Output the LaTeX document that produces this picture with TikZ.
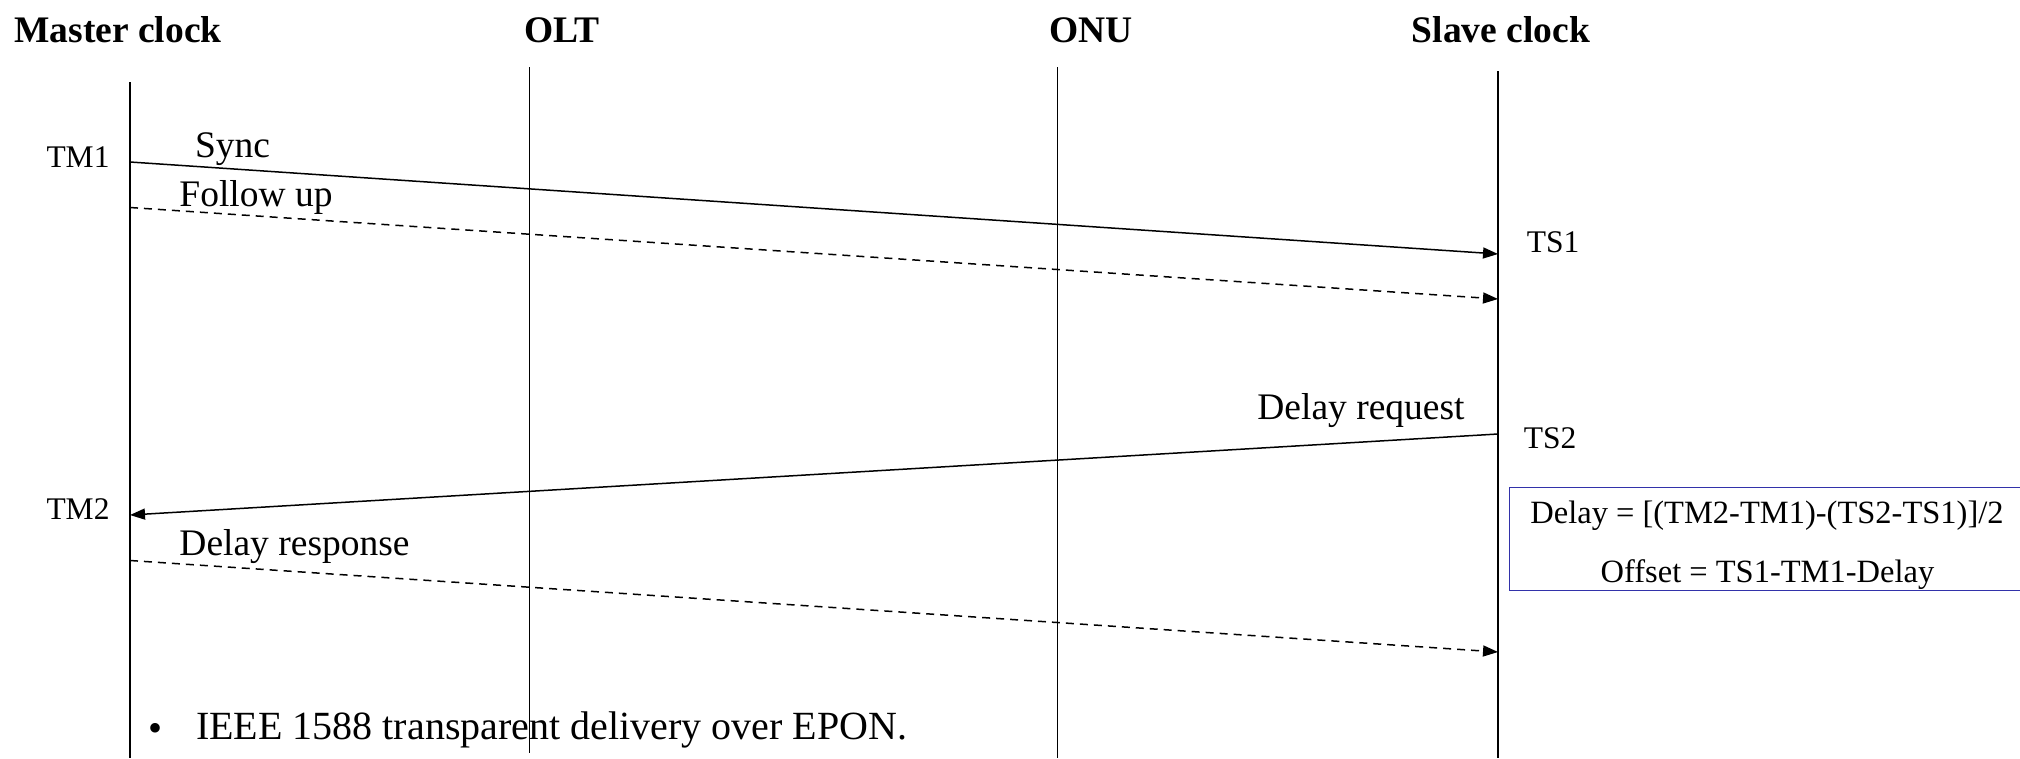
\documentclass[tikz,border=0pt]{standalone}
\usepackage{fontspec}
\setmainfont{Liberation Serif}
\usetikzlibrary{arrows.meta, positioning}
\definecolor{boxblue}{RGB}{50,50,170}

\begin{document}
\begin{tikzpicture}[x=1pt, y=-1pt,
        title/.style={font=\bfseries\fontsize{37.5}{37.5}\selectfont, inner sep=0pt},
        msglabel/.style={font=\fontsize{37.5}{37.5}\selectfont, inner sep=0pt},
        stamp/.style={font=\fontsize{31.5}{31.5}\selectfont, inner sep=0pt},
        formula/.style={font=\fontsize{32.5}{32.5}\selectfont, inner sep=0pt},
        lifeline/.style={line width=1.3pt},
        msg/.style={line width=1.5pt, -{Triangle[length=15pt,width=11pt]}},
        followmsg/.style={msg, dash pattern=on 8pt off 6pt}]

    \useasboundingbox (0,0) rectangle (2020,758);

    \node[title] (master) at (118,30) {Master clock};
    \node[title] (olt) at (562,30) {OLT};
    \node[title] (onu) at (1091,30) {ONU};
    \node[title] (slave) at (1501,30) {Slave clock};

    \coordinate (mtop) at (130,82);
    \coordinate (mbot) at (130,758);
    \coordinate (otop) at (529.5,67);
    \coordinate (obot) at (529.5,753);
    \coordinate (ntop) at (1057.5,67);
    \coordinate (nbot) at (1057.5,758);
    \coordinate (stop) at (1498,71);
    \coordinate (sbot) at (1498,758);

    \draw[lifeline] (mtop) -- (mbot);
    \draw[lifeline] (otop) -- (obot);
    \draw[lifeline] (ntop) -- (nbot);
    \draw[lifeline] (stop) -- (sbot);

    \coordinate (tm1) at (130,162);
    \coordinate (ts1) at (1498,254);
    \coordinate (fu1) at (130,207.5);
    \coordinate (fu2) at (1498,299);
    \coordinate (ts2) at (1498,434);
    \coordinate (tm2) at (130,515);
    \coordinate (dr1) at (130,560.5);
    \coordinate (dr2) at (1498,652);

    \draw[msg] (tm1) -- (ts1);
    \draw[followmsg] (fu1) -- (fu2);
    \draw[msg] (ts2) -- (tm2);
    \draw[followmsg] (dr1) -- (dr2);

    \node[stamp] (tm1lbl) at (78,157) {TM1};
    \node[stamp] (ts1lbl) at (1553,242) {TS1};
    \node[stamp] (ts2lbl) at (1550,438) {TS2};
    \node[stamp] (tm2lbl) at (78,509) {TM2};

    \node[msglabel] (sync) at (232.5,149) {Sync};
    \node[msglabel] (follow) at (256,197) {Follow up};
    \node[msglabel] (dreq) at (1361,411) {Delay request};
    \node[msglabel] (dresp) at (294.5,547) {Delay response};

    \node[draw=boxblue, line width=1.3pt, anchor=north west,
        minimum width=520pt, minimum height=103pt] (calcbox) at (1509,487) {};
    \node[formula] (delayeq) at (1767,516) {Delay = [(TM2-TM1)-(TS2-TS1)]/2};
    \node[formula] (offseteq) at (1767.5,575) {Offset = TS1-TM1-Delay};

    \node[msglabel, font=\fontsize{40}{40}\selectfont] (bullet) at (155,732) {•};
    \node[msglabel, font=\fontsize{40}{40}\selectfont, anchor=west] (note) at (196,730)
        {IEEE 1588 transparent delivery over EPON.};
\end{tikzpicture}
\end{document}
